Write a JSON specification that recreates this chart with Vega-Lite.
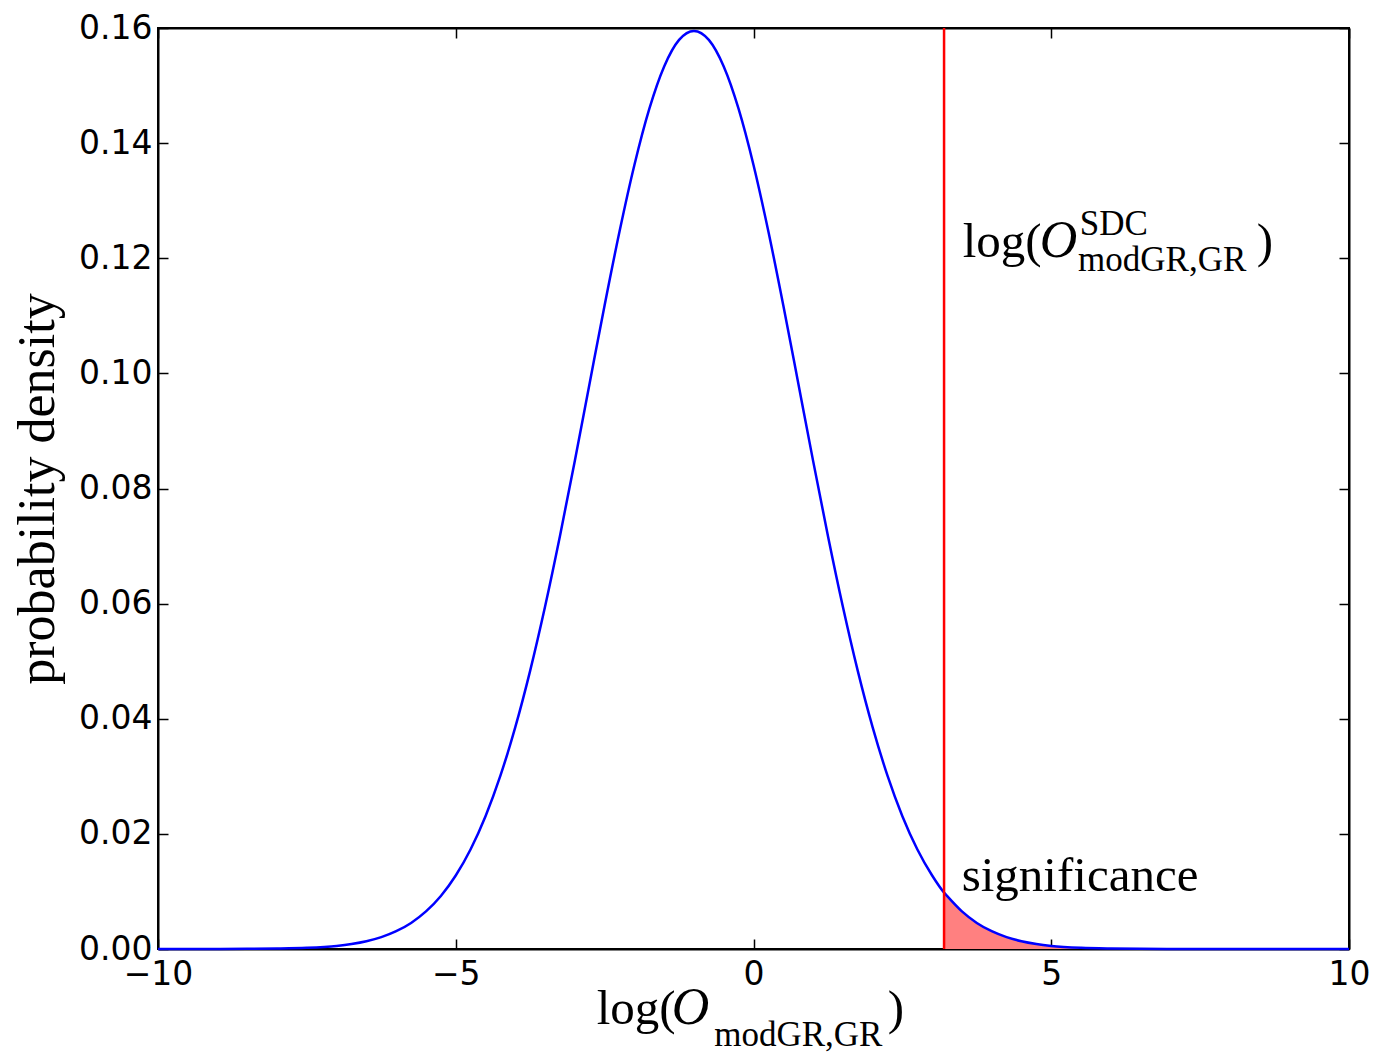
{
  "$schema": "https://vega.github.io/schema/vega-lite/v6.json",
  "width": 1191,
  "height": 921,
  "autosize": {"type": "none"},
  "padding": {"left": 158, "top": 28, "right": 48, "bottom": 106},
  "background": "white",
  "config": {
    "view": {"stroke": "black", "strokeWidth": 2},
    "axis": {
      "domainColor": "black", "domainWidth": 2,
      "tickColor": "black", "tickWidth": 1.5, "tickSize": -10,
      "labelFont": "DejaVu Sans", "labelFontSize": 33, "labelColor": "black",
      "labelFlush": false, "labelOverlap": false,
      "grid": false,
      "titleFont": "Liberation Serif", "titleFontSize": 52, "titleFontWeight": "normal", "titleColor": "black"
    }
  },
  "datasets": {
    "curve": [
      {"x": -10, "y": 0}, {"x": -9.5, "y": 0.0000018}, {"x": -9, "y": 0.0000066}, {"x": -8.5, "y": 0.000022},
      {"x": -8, "y": 0.00007}, {"x": -7.5, "y": 0.0002}, {"x": -7, "y": 0.00054}, {"x": -6.75, "y": 0.00087},
      {"x": -6.5, "y": 0.00135}, {"x": -6.25, "y": 0.00206}, {"x": -6, "y": 0.00309}, {"x": -5.75, "y": 0.00453},
      {"x": -5.5, "y": 0.00653}, {"x": -5.25, "y": 0.00922}, {"x": -5, "y": 0.01277}, {"x": -4.75, "y": 0.01734},
      {"x": -4.5, "y": 0.02307}, {"x": -4.25, "y": 0.03012}, {"x": -4, "y": 0.03854}, {"x": -3.75, "y": 0.04836},
      {"x": -3.5, "y": 0.05949}, {"x": -3.25, "y": 0.07175}, {"x": -3, "y": 0.08484}, {"x": -2.75, "y": 0.09838},
      {"x": -2.5, "y": 0.11184}, {"x": -2.25, "y": 0.12465}, {"x": -2, "y": 0.13621}, {"x": -1.75, "y": 0.14595},
      {"x": -1.5, "y": 0.15333}, {"x": -1.25, "y": 0.15794}, {"x": -1, "y": 0.1595}, {"x": -0.75, "y": 0.15794},
      {"x": -0.5, "y": 0.15333}, {"x": -0.25, "y": 0.14595}, {"x": 0, "y": 0.13621}, {"x": 0.25, "y": 0.12465},
      {"x": 0.5, "y": 0.11184}, {"x": 0.75, "y": 0.09838}, {"x": 1, "y": 0.08484}, {"x": 1.25, "y": 0.07175},
      {"x": 1.5, "y": 0.05949}, {"x": 1.75, "y": 0.04836}, {"x": 2, "y": 0.03854}, {"x": 2.25, "y": 0.03012},
      {"x": 2.5, "y": 0.02307}, {"x": 2.75, "y": 0.01734}, {"x": 3, "y": 0.01277}, {"x": 3.2, "y": 0.0098},
      {"x": 3.25, "y": 0.00922}, {"x": 3.5, "y": 0.00653}, {"x": 3.75, "y": 0.00453}, {"x": 4, "y": 0.00309},
      {"x": 4.25, "y": 0.00206}, {"x": 4.5, "y": 0.00135}, {"x": 4.75, "y": 0.00087}, {"x": 5, "y": 0.00054},
      {"x": 5.5, "y": 0.0002}, {"x": 6, "y": 0.00007}, {"x": 6.5, "y": 0.000022}, {"x": 7, "y": 0.0000066},
      {"x": 7.5, "y": 0.0000018}, {"x": 8, "y": 0.0000005}, {"x": 9, "y": 0}, {"x": 10, "y": 0}
    ],
    "tail": [
      {"x": 3.2, "y": 0.0098}, {"x": 3.25, "y": 0.00922}, {"x": 3.5, "y": 0.00653}, {"x": 3.75, "y": 0.00453},
      {"x": 4, "y": 0.00309}, {"x": 4.25, "y": 0.00206}, {"x": 4.5, "y": 0.00135}, {"x": 4.75, "y": 0.00087},
      {"x": 5, "y": 0.00054}, {"x": 5.5, "y": 0.0002}, {"x": 6, "y": 0.00007}, {"x": 6.5, "y": 0.000022},
      {"x": 7, "y": 0.0000066}, {"x": 7.5, "y": 0.0000018}, {"x": 8, "y": 0.0000005}, {"x": 9, "y": 0}, {"x": 10, "y": 0}
    ],
    "marker": [{"x": 3.2, "y": 0, "y2": 0.16}],
    "mainText": [
      {"x": 3.513, "y": 0.12016, "t": "log("},
      {"x": 8.45, "y": 0.12016, "t": ")"},
      {"x": 3.496, "y": 0.01004, "t": "significance"},
      {"x": -2.633, "y": -0.01295, "t": "log("},
      {"x": 2.254, "y": -0.01295, "t": ")"}
    ],
    "italicText": [
      {"x": 4.806, "y": 0.12016, "t": "O"},
      {"x": -1.373, "y": -0.01295, "t": "O"}
    ],
    "scriptText": [
      {"x": 5.48, "y": 0.12398, "t": "SDC"},
      {"x": 5.45, "y": 0.11772, "t": "modGR,GR"},
      {"x": -0.66, "y": -0.01677, "t": "modGR,GR"}
    ]
  },
  "resolve": {"axis": {"x": "independent", "y": "independent"}},
  "layer": [
    {
      "data": {"name": "tail"},
      "mark": {"type": "area", "color": "#ff8080", "interpolate": "monotone"},
      "encoding": {
        "x": {"field": "x", "type": "quantitative", "scale": {"domain": [-10, 10], "nice": false, "zero": false}, "axis": null},
        "y": {"field": "y", "type": "quantitative", "scale": {"domain": [0, 0.16], "nice": false}, "axis": null}
      }
    },
    {
      "data": {"name": "curve"},
      "mark": {"type": "line", "color": "#0000ff", "strokeWidth": 2.5, "interpolate": "monotone"},
      "encoding": {
        "x": {"field": "x", "type": "quantitative", "scale": {"domain": [-10, 10], "nice": false, "zero": false},
              "axis": {"orient": "bottom", "values": [-10, -5, 0, 5, 10], "title": null, "labelPadding": 19}},
        "y": {"field": "y", "type": "quantitative", "scale": {"domain": [0, 0.16], "nice": false},
              "axis": {"orient": "left", "values": [0, 0.02, 0.04, 0.06, 0.08, 0.1, 0.12, 0.14, 0.16], "format": ".2f",
                       "title": "probability density", "labelPadding": 16, "titlePadding": 14}}
      }
    },
    {
      "data": {"name": "marker"},
      "mark": {"type": "rule", "color": "#ff0000", "strokeWidth": 2.5},
      "encoding": {
        "x": {"field": "x", "type": "quantitative", "scale": {"domain": [-10, 10], "nice": false, "zero": false},
              "axis": {"orient": "top", "values": [-10, -5, 0, 5, 10], "labels": false, "title": null}},
        "y": {"field": "y", "type": "quantitative", "scale": {"domain": [0, 0.16], "nice": false},
              "axis": {"orient": "right", "values": [0, 0.02, 0.04, 0.06, 0.08, 0.1, 0.12, 0.14, 0.16], "labels": false, "title": null}},
        "y2": {"field": "y2"}
      }
    },
    {
      "data": {"name": "mainText"},
      "mark": {"type": "text", "align": "left", "baseline": "alphabetic", "font": "Liberation Serif", "fontSize": 49, "color": "black"},
      "encoding": {
        "x": {"field": "x", "type": "quantitative", "axis": null},
        "y": {"field": "y", "type": "quantitative", "axis": null},
        "text": {"field": "t"}
      }
    },
    {
      "data": {"name": "italicText"},
      "mark": {"type": "text", "align": "left", "baseline": "alphabetic", "font": "Liberation Serif", "fontStyle": "italic", "fontSize": 52, "color": "black"},
      "encoding": {
        "x": {"field": "x", "type": "quantitative", "axis": null},
        "y": {"field": "y", "type": "quantitative", "axis": null},
        "text": {"field": "t"}
      }
    },
    {
      "data": {"name": "scriptText"},
      "mark": {"type": "text", "align": "left", "baseline": "alphabetic", "font": "Liberation Serif", "fontSize": 35, "color": "black"},
      "encoding": {
        "x": {"field": "x", "type": "quantitative", "axis": null},
        "y": {"field": "y", "type": "quantitative", "axis": null},
        "text": {"field": "t"}
      }
    }
  ]
}
